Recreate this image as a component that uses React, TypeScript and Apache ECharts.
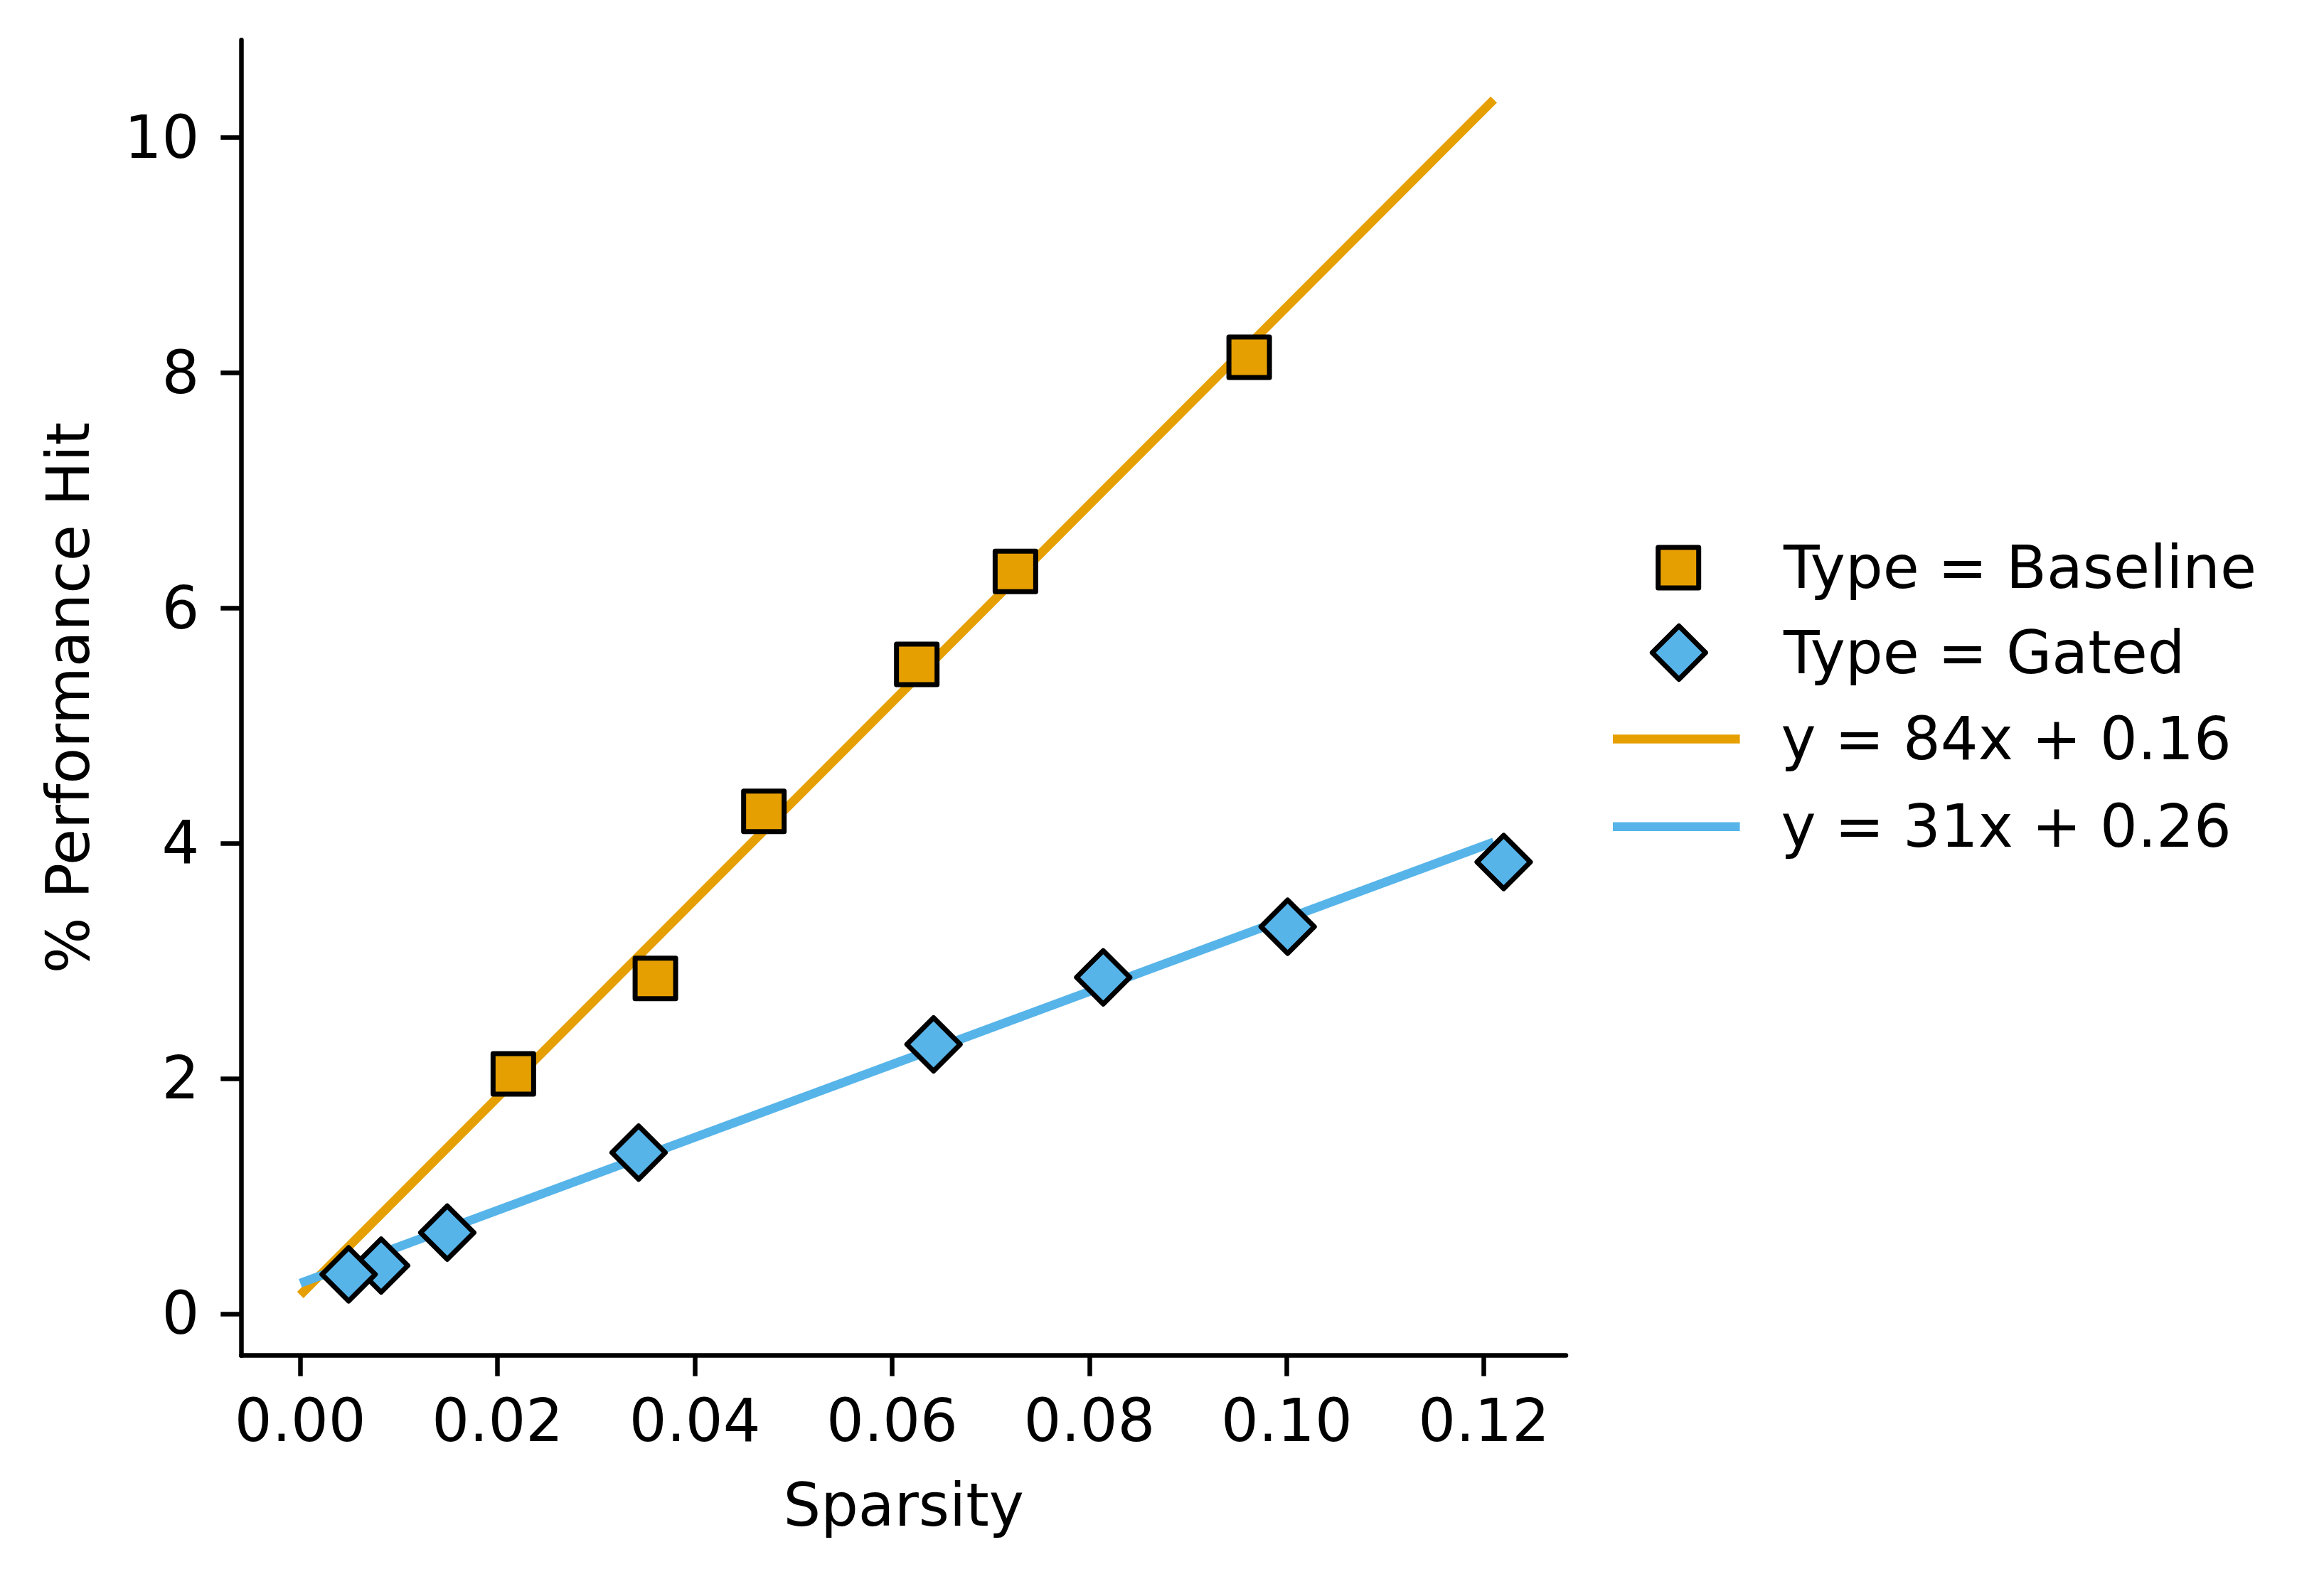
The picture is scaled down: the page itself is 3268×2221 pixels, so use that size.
import React, { useEffect, useRef } from "react";
import * as echarts from "echarts";

const baselineX = [0.0216, 0.036, 0.047, 0.0625, 0.0725, 0.0962];
const baselineY = [2.04, 2.85, 4.27, 5.52, 6.31, 8.13];
const gatedX = [0.0082, 0.0049, 0.0149, 0.0343, 0.0642, 0.0814, 0.1001, 0.122];
const gatedY = [0.41, 0.335, 0.69, 1.37, 2.29, 2.86, 3.29, 3.84];
const fitX = [0, 0.121];
const baselineFitY = [0.16, 10.32];
const gatedFitY = [0.26, 4.01];
const xTicks = [0, 0.02, 0.04, 0.06, 0.08, 0.1, 0.12];
const yTicks = [0, 2, 4, 6, 8, 10];
const seriesNames = ["Type = Baseline", "Type = Gated", "y = 84x + 0.16", "y = 31x + 0.26"];

const ORANGE = "#E69F00";
const BLUE = "#56B4E9";
const FONT = "DejaVu Sans";
const FS = 83;

export default function App() {
  const ref = useRef<HTMLDivElement>(null);
  useEffect(() => {
    if (!ref.current) return;
    const chart = echarts.init(ref.current, undefined, { renderer: "svg" });
    const zip = (xs: number[], ys: number[]) => xs.map((x, i) => [x, ys[i]]);
    const legendText = (padLeft: number, padBottom: number) => ({
      fontFamily: FONT,
      fontSize: FS,
      color: "#000",
      lineHeight: 40,
      padding: [0, 0, padBottom, padLeft],
    });
    const markerLegendStyle = { borderColor: "#000", borderWidth: 7, borderJoin: "round" };
    chart.setOption({
      animation: false,
      backgroundColor: "#fff",
      textStyle: { fontFamily: FONT },
      grid: { left: 339.3, top: 56.3, width: 1862.7, height: 1850.4 },
      xAxis: {
        type: "value",
        min: -0.00598,
        max: 0.12831,
        name: "Sparsity",
        nameLocation: "middle",
        nameGap: 169,
        nameTextStyle: { fontFamily: FONT, fontSize: FS, color: "#000" },
        axisLine: { show: true, onZero: false, lineStyle: { color: "#000", width: 6.5 } },
        axisTick: { show: true, length: 29, lineStyle: { color: "#000", width: 6.5 }, customValues: xTicks },
        axisLabel: {
          customValues: xTicks,
          margin: 50,
          fontFamily: FONT,
          fontSize: FS,
          color: "#000",
          formatter: (v: number) => v.toFixed(2),
        },
        splitLine: { show: false },
      },
      yAxis: {
        type: "value",
        min: -0.3547,
        max: 10.826,
        name: "% Performance Hit",
        nameLocation: "middle",
        nameGap: 201,
        nameTextStyle: { fontFamily: FONT, fontSize: FS, color: "#000" },
        axisLine: { show: true, onZero: false, lineStyle: { color: "#000", width: 6.5 } },
        axisTick: { show: true, length: 29, lineStyle: { color: "#000", width: 6.5 }, customValues: yTicks },
        axisLabel: {
          customValues: yTicks,
          margin: 59,
          fontFamily: FONT,
          fontSize: FS,
          color: "#000",
          formatter: (v: number) => String(Math.round(v)),
        },
        splitLine: { show: false },
      },
      legend: [
        {
          data: [{ name: seriesNames[0], icon: "rect" }],
          left: 2328.2,
          top: 757,
          padding: 0,
          itemWidth: 57,
          itemHeight: 57,
          selectedMode: false,
          itemStyle: markerLegendStyle,
          textStyle: legendText(114.4, 10),
        },
        {
          data: [{ name: seriesNames[1], icon: "diamond" }],
          left: 2319.9,
          top: 876.5,
          padding: 0,
          itemWidth: 75,
          itemHeight: 75,
          selectedMode: false,
          itemStyle: markerLegendStyle,
          textStyle: legendText(104.7, 10),
        },
        {
          data: [{ name: seriesNames[2], icon: "rect" }],
          left: 2268,
          top: 998,
          padding: 0,
          itemWidth: 178.6,
          itemHeight: 12.5,
          selectedMode: false,
          itemStyle: { borderWidth: 0 },
          textStyle: legendText(53, 0),
        },
        {
          data: [{ name: seriesNames[3], icon: "rect" }],
          left: 2268,
          top: 1121.3,
          padding: 0,
          itemWidth: 178.6,
          itemHeight: 12.5,
          selectedMode: false,
          itemStyle: { borderWidth: 0 },
          textStyle: legendText(53, 0),
        },
      ],
      series: [
        {
          name: seriesNames[2],
          type: "line",
          data: zip(fitX, baselineFitY),
          showSymbol: false,
          symbol: "none",
          color: ORANGE,
          itemStyle: { color: ORANGE },
          lineStyle: { color: ORANGE, width: 12.5, cap: "butt" },
          z: 2,
          silent: true,
        },
        {
          name: seriesNames[3],
          type: "line",
          data: zip(fitX, gatedFitY),
          showSymbol: false,
          symbol: "none",
          color: BLUE,
          itemStyle: { color: BLUE },
          lineStyle: { color: BLUE, width: 12.5, cap: "butt" },
          z: 2,
          silent: true,
        },
        {
          name: seriesNames[0],
          type: "scatter",
          data: zip(baselineX, baselineY),
          symbol: "rect",
          symbolSize: 57,
          itemStyle: { color: ORANGE, borderColor: "#000", borderWidth: 7, borderJoin: "round", opacity: 1 },
          z: 3,
          silent: true,
        },
        {
          name: seriesNames[1],
          type: "scatter",
          data: zip(gatedX, gatedY),
          symbol: "diamond",
          symbolSize: 75,
          itemStyle: { color: BLUE, borderColor: "#000", borderWidth: 7, borderJoin: "round", opacity: 1 },
          z: 3,
          silent: true,
        },
      ],
    });
    return () => chart.dispose();
  }, []);
  return (
    <div
      ref={ref}
      style={{ position: "fixed", left: 0, top: 0, width: 3268, height: 2221, background: "#fff" }}
    />
  );
}
